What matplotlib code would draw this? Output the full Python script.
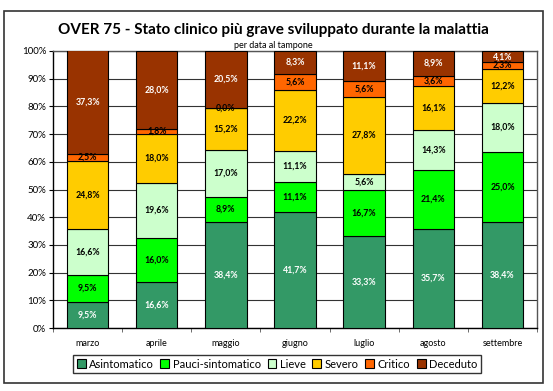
import numpy as np
import matplotlib.pyplot as plt
from matplotlib.patches import Rectangle

plt.rcParams['font.family'] = ['Lato', 'DejaVu Sans']

months = ["marzo", "aprile", "maggio", "giugno", "luglio", "agosto", "settembre"]
categories = ["Asintomatico", "Pauci-sintomatico", "Lieve", "Severo", "Critico", "Deceduto"]
colors = ["#339966", "#00FF00", "#CCFFCC", "#FFCC00", "#FF6600", "#993300"]
text_colors = ["white", "black", "black", "black", "black", "white"]

asintomatico = [9.5, 16.6, 38.4, 41.7, 33.3, 35.7, 38.4]
pauci = [9.5, 16.0, 8.9, 11.1, 16.7, 21.4, 25.0]
lieve = [16.6, 19.6, 17.0, 11.1, 5.6, 14.3, 18.0]
severo = [24.8, 18.0, 15.2, 22.2, 27.8, 16.1, 12.2]
critico = [2.5, 1.8, 0.0, 5.6, 5.6, 3.6, 2.3]
deceduto = [37.3, 28.0, 20.5, 8.3, 11.1, 8.9, 4.1]

series = [asintomatico, pauci, lieve, severo, critico, deceduto]

fig = plt.figure(figsize=(5.53, 3.91), dpi=100)
ax = fig.add_axes([53 / 553, 1 - 328 / 391, 484 / 553, 277 / 391])

x = np.arange(len(months))
bottom = np.zeros(len(months))
for vals, name, col, tc in zip(series, categories, colors, text_colors):
    vals = np.array(vals)
    ax.bar(x, vals, 0.6, bottom=bottom, color=col, edgecolor="black",
           linewidth=0.8, label=name, zorder=3)
    for xi, b, v in zip(x, bottom, vals):
        ax.text(xi, b + v / 2, f"{v:.1f}%".replace(".", ","), ha="center", va="center",
                fontsize=6.3, color=tc, fontweight="bold", zorder=4)
    bottom = bottom + vals

ax.set_xlim(-0.5, len(months) - 0.5)
ax.set_ylim(0, 100)
ax.set_yticks(np.arange(0, 101, 10))
ax.set_yticklabels([f"{v}%" for v in range(0, 101, 10)], fontsize=7)
ax.set_xticks(x)
ax.set_xticklabels(months, fontsize=6.5)
ax.tick_params(axis="x", length=0, pad=8)
ax.set_xticks(np.arange(-0.5, len(months), 1), minor=True)
ax.tick_params(axis="x", which="minor", length=3, color="#555555")
ax.tick_params(axis="y", length=3, pad=2)
ax.grid(axis="y", color="#333333", linewidth=0.8, zorder=0)
for s in ax.spines.values():
    s.set_color("#555555")
    s.set_linewidth(1)
ax.spines["left"].set_color("black")
ax.spines["bottom"].set_color("black")

fig.text(273 / 553, 1 - 30 / 391, "OVER 75 - Stato clinico più grave sviluppato durante la malattia",
         ha="center", va="center", fontsize=11, fontweight="bold")
fig.text(273 / 553, 1 - 45 / 391, "per data al tampone", ha="center", va="center", fontsize=6.5)

leg = fig.legend(loc="center", bbox_to_anchor=(277 / 553, 1 - 364 / 391), ncol=6, fontsize=8,
                 frameon=True, fancybox=False, edgecolor="black", handlelength=0.8,
                 handleheight=0.8, handletextpad=0.3, columnspacing=0.6, borderpad=0.3)
leg.get_frame().set_linewidth(1)

fig.patches.append(Rectangle((4 / 553, 1 - 383 / 391), 539 / 553, 372 / 391, transform=fig.transFigure,
                             fill=False, edgecolor="#333333", linewidth=1.2))

fig.savefig("out.png", dpi=100)
